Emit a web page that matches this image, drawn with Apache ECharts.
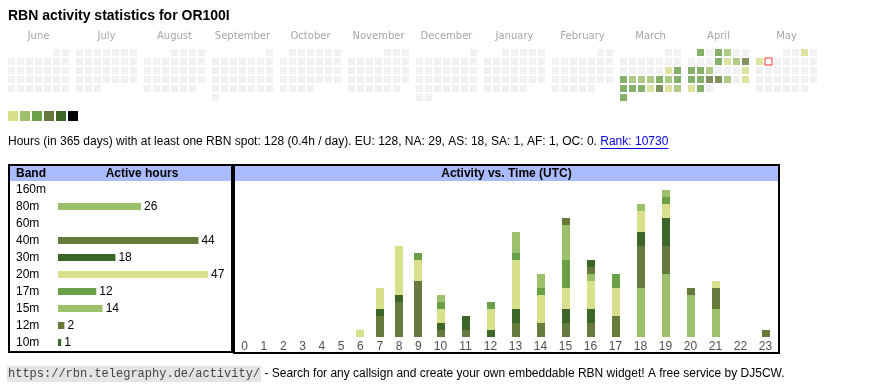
<!DOCTYPE html>
<html><head><meta charset="utf-8">
<script src="https://cdn.jsdelivr.net/npm/echarts@6/dist/echarts.min.js"></script>
<style>html,body{margin:0;padding:0;background:#fff}#c{width:870px;height:390px}</style>
</head><body><div id="c"></div><script>
// ---------- DATA ----------
const titleText = 'RBN activity statistics for OR100I';
const monthNames = ['June','July','August','September','October','November','December','January','February','March','April','May'];
const calStartYear = 2024, calStartMonth = 5; // June 2024 (0-based month)
const activeDates = ['2025-03-15','2025-03-16','2025-03-17','2025-03-18','2025-03-19','2025-03-20','2025-03-21','2025-03-22','2025-03-23',
  '2025-03-24','2025-03-25','2025-03-26','2025-03-27','2025-03-28','2025-03-29','2025-03-30','2025-03-31',
  '2025-04-01','2025-04-03','2025-04-04','2025-04-10','2025-04-11','2025-04-12','2025-04-13','2025-04-14','2025-04-15','2025-04-16',
  '2025-04-20','2025-04-21','2025-04-22','2025-04-23','2025-04-24','2025-04-25','2025-04-27','2025-04-28','2025-04-29',
  '2025-05-03','2025-05-05'];
const activeLevels = [1,3,3,2,2,2,3,2,3,
  3,3,3,1,4,1,2,3,
  3,3,2,3,1,2,4,3,3,2,
  1,3,3,4,4,2,1,1,3,
  1,1];
const todayDate = '2025-05-06';
const levelColors = ['#d9e08b','#9dc16b','#6aa047','#667a3b','#3b6628','#000000'];

const summaryText = 'Hours (in 365 days) with at least one RBN spot: 128 (0.4h / day). EU: 128, NA: 29, AS: 18, SA: 1, AF: 1, OC: 0. ';
const rankText = 'Rank: 10730';

const bands = ['160m','80m','60m','40m','30m','20m','17m','15m','12m','10m'];
const bandHours = [0,26,0,44,18,47,12,14,2,1];
const bandLevel = [5,2,3,4,5,1,3,2,4,5];

const hourLabels = ['0','1','2','3','4','5','6','7','8','9','10','11','12','13','14','15','16','17','18','19','20','21','22','23'];
const hours160m = [0,0,0,0,0,0,0,0,0,0,0,0,0,0,0,0,0,0,0,0,0,0,0,0];
const hours80m  = [0,0,0,0,0,0,0,0,0,0,0,0,0,0,0,0,0,0,7,9,6,4,0,0];
const hours60m  = [0,0,0,0,0,0,0,0,0,0,0,0,0,0,0,0,0,0,0,0,0,0,0,0];
const hours40m  = [0,0,0,0,0,0,0,3,5,8,1,1,0,2,2,2,2,3,6,4,1,3,0,1];
const hours30m  = [0,0,0,0,0,0,0,1,1,0,1,2,1,2,0,2,2,0,2,4,0,0,0,0];
const hours20m  = [0,0,0,0,0,0,1,3,7,3,2,0,3,7,4,3,4,4,3,2,0,1,0,0];
const hours17m  = [0,0,0,0,0,0,0,0,0,1,1,0,1,1,1,4,0,2,0,1,0,0,0,0];
const hours15m  = [0,0,0,0,0,0,0,0,0,0,1,0,0,3,2,5,1,0,1,1,0,0,0,0];
const hours12m  = [0,0,0,0,0,0,0,0,0,0,0,0,0,0,0,1,1,0,0,0,0,0,0,0];
const hours10m  = [0,0,0,0,0,0,0,0,0,0,0,0,0,0,0,0,1,0,0,0,0,0,0,0];
const hourlyByBand = [hours160m,hours80m,hours60m,hours40m,hours30m,hours20m,hours17m,hours15m,hours12m,hours10m];

const footerCode = 'https://rbn.telegraphy.de/activity/';
const footerText = ' - Search for any callsign and create your own embeddable RBN widget! A free service by DJ5CW.';

// ---------- LAYOUT / BUILD ----------
const SANS = '"Liberation Sans", Arial, sans-serif';
const P = 68 / 9; // month pitch in cell units
const pad = n => (n < 10 ? '0' : '') + n;
const pos = {};
const allCells = [];
for (let i = 0; i < 12; i++) {
  const y = calStartYear + Math.floor((calStartMonth + i) / 12), m = (calStartMonth + i) % 12;
  const firstCol = (new Date(Date.UTC(y, m, 1)).getUTCDay() + 6) % 7;
  const nDays = new Date(Date.UTC(y, m + 1, 0)).getUTCDate();
  for (let d = 1; d <= nDays; d++) {
    const col = (firstCol + d - 1) % 7, row = Math.floor((firstCol + d - 1) / 7);
    const key = y + '-' + pad(m + 1) + '-' + pad(d);
    pos[key] = [i * P + col, row];
    allCells.push([i * P + col, row]);
  }
}
const activeCells = activeDates.map((d, k) => ({value: pos[d], itemStyle: {color: levelColors[activeLevels[k] - 1]}}));

// hour columns sized like an auto-width table: padding + label width
const colW = hourLabels.map(l => 13.6 + 5.7 * l.length);
const colX = [];
colW.reduce((acc, w) => { colX.push(acc + w / 2); return acc + w; }, 0);
const colTotal = colW.reduce((a, b) => a + b, 0);

// stacked segments (bottom -> top in band order)
const running = hourLabels.map(() => 0);
const stackedSeries = bands.map((b, k) => {
  const data = [];
  hourlyByBand[k].forEach((v, h) => {
    if (v > 0) { data.push([colX[h], running[h], running[h] + v]); running[h] += v; }
  });
  return {
    type: 'custom', name: b, xAxisIndex: 3, yAxisIndex: 2, silent: true,
    itemStyle: {color: levelColors[bandLevel[k] - 1]},
    encode: {x: 0, y: [1, 2]},
    renderItem: (params, api) => {
      const p0 = api.coord([api.value(0), api.value(1)]);
      const p1 = api.coord([api.value(0), api.value(2)]);
      return {type: 'rect', shape: {x: Math.round(p0[0] - 4), y: p1[1], width: 8, height: p0[1] - p1[1]},
        style: {fill: api.visual('color')}};
    },
    data
  };
});

const ctx = document.createElement('canvas').getContext('2d');
ctx.font = '12px ' + SANS;
const summaryW = ctx.measureText(summaryText).width;
const rankW = ctx.measureText(rankText).width;

const chart = echarts.init(document.getElementById('c'), null, {renderer: 'canvas'});
const option = {
  animation: false,
  textStyle: {fontFamily: SANS},
  grid: [
    {left: 4.5, width: 816, top: 48, height: 54},
    {left: 58, width: 150, top: 181, height: 170},
    {left: 235, width: colTotal, top: 183, height: 154}
  ],
  xAxis: [
    {gridIndex: 0, type: 'value', min: -7/9, max: 12 * P - 7/9, show: false},
    {gridIndex: 0, type: 'category', position: 'top', data: monthNames,
      axisLine: {show: false}, axisTick: {show: false}, splitLine: {show: false},
      axisLabel: {color: '#a6a6a6', fontSize: 10, fontFamily: '"DejaVu Sans", sans-serif', margin: 7, interval: 0}},
    {gridIndex: 1, type: 'value', min: 0, max: 47, show: false},
    {gridIndex: 2, type: 'value', min: 0, max: colTotal, show: false}
  ],
  yAxis: [
    {gridIndex: 0, type: 'value', min: -0.5, max: 5.5, inverse: true, show: false},
    {gridIndex: 1, type: 'category', data: bands, inverse: true,
      axisLine: {show: false}, axisTick: {show: false},
      axisLabel: {color: '#000', fontSize: 12, align: 'left', margin: 42}},
    {gridIndex: 2, type: 'value', min: 0, max: 22, show: false}
  ],
  series: [
    {type: 'scatter', xAxisIndex: 0, yAxisIndex: 0, symbol: 'rect', symbolSize: 7, silent: true,
      itemStyle: {color: '#eeeeee'}, data: allCells},
    {type: 'scatter', xAxisIndex: 0, yAxisIndex: 0, symbol: 'rect', symbolSize: 7, silent: true, data: activeCells},
    {type: 'scatter', xAxisIndex: 0, yAxisIndex: 0, symbol: 'rect', symbolSize: 7, silent: true,
      itemStyle: {color: '#ffffff', borderColor: '#ff0000', borderWidth: 1}, data: [pos[todayDate]]},
    {type: 'bar', xAxisIndex: 2, yAxisIndex: 1, barWidth: 7, silent: true,
      data: bandHours.map((v, k) => ({value: v, itemStyle: {color: levelColors[bandLevel[k] - 1]}})),
      label: {show: true, position: 'right', distance: 3, color: '#000', fontSize: 12,
        formatter: p => (p.value > 0 ? p.value : '')}},
    {type: 'scatter', xAxisIndex: 3, yAxisIndex: 2, symbolSize: 0, silent: true,
      data: hourLabels.map((l, h) => [colX[h], 0]),
      label: {show: true, position: 'bottom', distance: 4, color: '#222', fontSize: 12,
        formatter: p => hourLabels[p.dataIndex]}}
  ].concat(stackedSeries),
  graphic: [
    {type: 'text', x: 8, y: 16, style: {text: titleText, font: 'bold 14px ' + SANS, fill: '#000', verticalAlign: 'middle', textVerticalAlign: 'middle'}},
    ...levelColors.map((c, k) => ({type: 'rect', shape: {x: 8 + 12 * k, y: 111, width: 10, height: 10}, style: {fill: c}})),
    {type: 'text', x: 8, y: 142, style: {text: summaryText, font: '12px ' + SANS, fill: '#000', verticalAlign: 'middle', textVerticalAlign: 'middle'}},
    {type: 'text', x: 8 + summaryW, y: 142, style: {text: rankText, font: '12px ' + SANS, fill: '#0000ee', verticalAlign: 'middle', textVerticalAlign: 'middle'}},
    {type: 'line', shape: {x1: 8 + summaryW, y1: 148.5, x2: 8 + summaryW + rankW, y2: 148.5}, style: {stroke: '#0000ee', lineWidth: 1}},
    // band table box
    {type: 'rect', shape: {x: 10, y: 166, width: 221, height: 15}, style: {fill: '#aabbff'}},
    {type: 'rect', shape: {x: 9, y: 165, width: 223, height: 187}, style: {fill: 'none', stroke: '#000', lineWidth: 2}},
    {type: 'text', x: 16, y: 173.5, style: {text: 'Band', font: 'bold 12px ' + SANS, fill: '#000', verticalAlign: 'middle', textVerticalAlign: 'middle'}},
    {type: 'text', x: 142, y: 173.5, style: {text: 'Active hours', font: 'bold 12px ' + SANS, fill: '#000', align: 'center', textAlign: 'center', verticalAlign: 'middle', textVerticalAlign: 'middle'}},
    // activity box
    {type: 'rect', shape: {x: 235, y: 166, width: 543, height: 15}, style: {fill: '#aabbff'}},
    {type: 'rect', shape: {x: 234, y: 165, width: 545, height: 188}, style: {fill: 'none', stroke: '#000', lineWidth: 2}},
    {type: 'text', x: 506.5, y: 173.5, style: {text: 'Activity vs. Time (UTC)', font: 'bold 12px ' + SANS, fill: '#000', align: 'center', textAlign: 'center', verticalAlign: 'middle', textVerticalAlign: 'middle'}},
    // footer
    {type: 'text', x: 7, y: 374, style: {
      text: '{code|' + footerCode + '}{t|' + footerText + '}', verticalAlign: 'middle', textVerticalAlign: 'middle',
      rich: {
        code: {font: '12px "Liberation Mono", monospace', fill: '#444', backgroundColor: '#e4e4e4', padding: [2, 1, 2, 1]},
        t: {font: '12px ' + SANS, fill: '#000'}
      }}}
  ]
};
chart.setOption(option);
</script></body></html>
